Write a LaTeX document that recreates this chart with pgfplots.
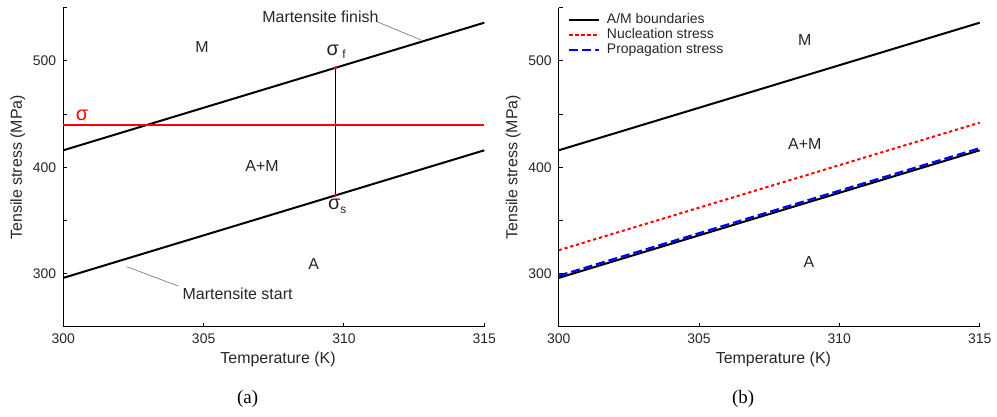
\documentclass[border=0pt]{standalone}
\usepackage{fontspec}
\setmainfont{Liberation Sans}
\newfontfamily\capfont{Liberation Serif}
\usepackage{pgfplots}
\pgfplotsset{compat=1.18}
\definecolor{txt}{RGB}{38,38,38}
\pgfplotsset{
 myaxis/.style={
  scale only axis, width=210.5bp, height=159.5bp,
  xmin=300,xmax=315,ymin=250,ymax=550,
  axis x line*=bottom, axis y line*=left,
  tick align=inside, major tick length=2bp,
  xtick={300,305,310,315},
  ytick={250,300,...,550}, yticklabels={,300,,400,,500,},
  /pgf/number format/assume math mode=true,
  tick label style={font=\fontsize{7}{8}\selectfont, text=txt},
  label style={font=\fontsize{8}{9.6}\selectfont, text=txt},
  xlabel={Temperature (K)}, ylabel={Tensile stress (MPa)},
  xlabel style={at={(axis description cs:0.51,-0.1016)}, anchor=center},
  ylabel style={at={(axis description cs:-0.108,0.5)}, anchor=center},
  clip=false,
  axis line style={line width=0.6bp},
  every tick/.style={black, line width=0.5bp},
 }
}
\newcommand{\annot}{\fontsize{8}{9.6}\selectfont\color{txt}}
\newcommand{\sig}{\fontsize{10}{11}\selectfont}
\begin{document}
\begin{tikzpicture}
\useasboundingbox (0,0) rectangle (498.5bp,208.5bp);
% ---------- (a) ----------
\begin{axis}[myaxis, at={(31.65bp,45.1bp)}, anchor=south west]
\addplot[black, line width=1bp] coordinates {(300,416) (315,536)};
\addplot[black, line width=1bp] coordinates {(300,296) (315,416)};
\addplot[red, line width=0.8bp] coordinates {(300,440) (315,440)};
\addplot[black, line width=0.5bp] coordinates {(309.7,373.6) (309.7,493.6)};
\addplot[only marks, mark=*, mark size=0.6bp, red] coordinates {(309.7,373.6) (309.7,440) (309.7,493.6)};
\addplot[gray, line width=0.35bp] coordinates {(311.17,537.0) (312.81,519.0)};
\addplot[gray, line width=0.35bp] coordinates {(302.26,306.5) (304.1,288.3)};
\node[font=\annot] at (axis cs:309.16,541.2) {Martensite finish};
\node[font=\annot] at (axis cs:306.21,281.4) {Martensite start};
\node[font=\annot] at (axis cs:304.94,513.5) {M};
\node[font=\annot] at (axis cs:307.08,401.6) {A+M};
\node[font=\annot] at (axis cs:308.92,309.2) {A};
\node[text=red, font=\sig] at (axis cs:300.67,449) {σ};
\node[text=txt, font=\sig] at (axis cs:309.72,508.8) {σ\,\raisebox{-0.35ex}{\fontsize{6}{6}\selectfont f}};
\node[text=txt, font=\sig] at (axis cs:309.76,363.6) {σ\raisebox{-0.35ex}{\fontsize{6}{6}\selectfont s}};
\node[font=\capfont\fontsize{9.5}{11}\selectfont] at (axis description cs:0.438,-0.227) {(a)};
\end{axis}
% ---------- (b) ----------
\begin{axis}[myaxis, at={(279.35bp,45.1bp)}, anchor=south west,
  legend style={draw=none, fill=none, at={(axis description cs:0.022,0.99)}, anchor=north west,
    font=\fontsize{7}{8}\selectfont, text=txt, row sep=-1.5bp, inner sep=0pt,
    nodes={inner sep=1.2bp}},
  legend cell align=left,
  legend image code/.code={\draw[#1] (0bp,0bp) -- (15bp,0bp); \path (17bp,0bp);}]
\addplot[black, line width=1bp] coordinates {(300,416) (315,536)};
\addlegendentry{A/M boundaries}
\addplot[black, line width=1bp, forget plot] coordinates {(300,296) (315,416)};
\addplot[red, line width=1bp, dash pattern=on 1.6bp off 1.4bp] coordinates {(300,322) (315,442)};
\addlegendentry{Nucleation stress}
\addplot[blue, line width=1.1bp, dash pattern=on 4.5bp off 2bp] coordinates {(300,298) (315,418)};
\addlegendentry{Propagation stress}
\node[font=\annot] at (axis cs:308.77,519.4) {M};
\node[font=\annot] at (axis cs:308.77,421.8) {A+M};
\node[font=\annot] at (axis cs:308.92,310.9) {A};
\node[font=\capfont\fontsize{9.5}{11}\selectfont] at (axis description cs:0.438,-0.227) {(b)};
\end{axis}
\end{tikzpicture}
\end{document}
